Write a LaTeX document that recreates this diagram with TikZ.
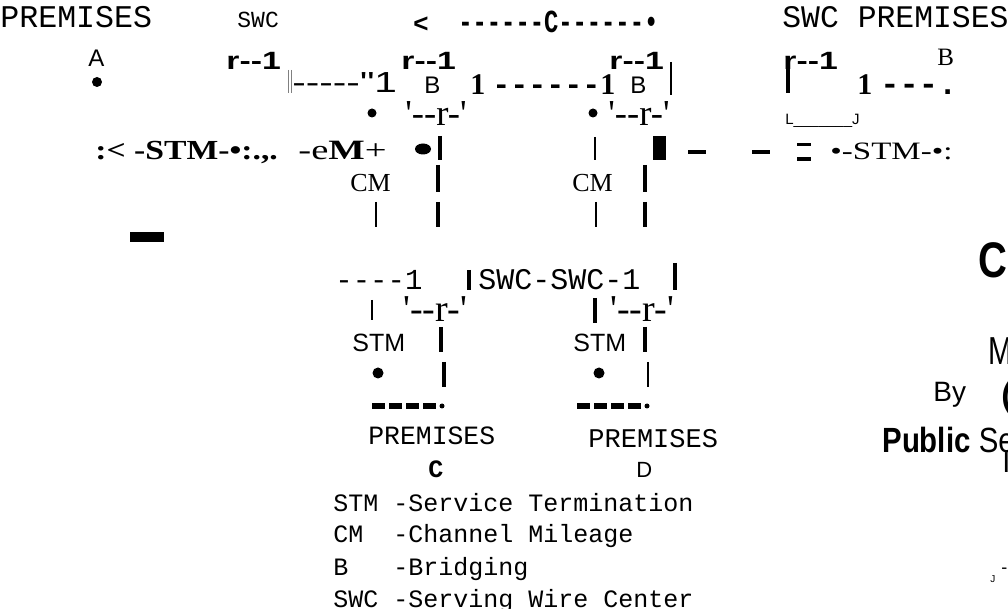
\documentclass[tikz,border=0pt]{standalone}
\usepackage{graphicx}
\usepackage{fontspec}
\setmainfont{Liberation Serif}[Ligatures=TeXOff]
\newfontfamily\sansfam{Liberation Sans}[Ligatures=TeXOff]
\newfontfamily\monofam{Liberation Mono}[Ligatures=TeXOff]
\newcommand\fsz[1]{\fontsize{#1}{#1}\selectfont}
\newcommand\sx[2]{\scalebox{#1}[1]{#2}}

\tikzset{
  txt/.style={anchor=base west, inner sep=0pt},
  mono/.style={txt, font=\monofam\fsz{#1}},
  monob/.style={txt, font=\monofam\bfseries\fsz{#1}},
  sans/.style={txt, font=\sansfam\fsz{#1}},
  sansb/.style={txt, font=\sansfam\bfseries\fsz{#1}},
  serif/.style={txt, font=\rmfamily\fsz{#1}},
  serifb/.style={txt, font=\rmfamily\bfseries\fsz{#1}},
  bar/.style={line width=2pt},
  thinbar/.style={line width=1.25pt},
}

\begin{document}
\begin{tikzpicture}[x=0.5pt, y=-0.5pt]
    \useasboundingbox (0,0) rectangle (1008,609);
    %
    % top row
    \node[mono=15.8] (premA) at (0,28) {PREMISES};
    \node[mono=11.5] (swcA) at (237,28) {SWC};
    \node[sansb=13] (lt) at (413,33) {<};
    \node[monob=11.9] (cline) at (458,33) {\scalebox{1}[1.35]{------C------•}};
    \node[mono=15.7] (premB) at (782,28) {SWC PREMISES};
    %
    % boxes
    \node[sans=12] (a) at (88,67) {A};
    \fill (97,82) circle[radius=2.5pt];
    \node[sansb=12.5] (ra) at (226,70) {\sx{1.35}{r--1}};
    \draw[gray, line width=0.3pt] (288,70) -- (288,93) (291,70) -- (291,93);
    \node[sans=14.5] (link) at (292,93) {\sx{1.4}{-----"1}};
    \node[sansb=12.5] (rb) at (401,70) {\sx{1.35}{r--1}};
    \node[sans=12] (b1) at (424,94) {B};
    \node[serifb=15] (one1) at (470,95) {1};
    \node[monob=15] (dash1) at (492,95) {------};
    \node[serifb=15] (one2) at (600,95) {1};
    \node[sans=12] (b2) at (630,94) {B};
    \node[sansb=12.5] (rc) at (609,70) {\sx{1.35}{r--1}};
    \draw[thinbar] (671,62) -- (671,95);
    \node[sansb=12.5] (rd) at (783,70) {\sx{1.35}{r--1}};
    \draw[bar] (788,66) -- (788,93);
    \node[serifb=15] (one3) at (857,95) {1};
    \node[monob=16] (dash3) at (880,95) {---.};
    \node[serif=12.5] (bB) at (937,66) {B};
    %
    \fill (372,113) circle[radius=2.25pt];
    \node[serif=18.3] (bot1) at (405,126) {'--r-'};
    \fill (593,113) circle[radius=2.25pt];
    \node[serif=18.3] (bot2) at (608,126) {'--r-'};
    \node[sans=7.5] (lj) at (785,125) {L\_\_\_\_\_\_\_J};
    %
    % STM row
    \node[serifb=13.8] (stmA) at (95,160) {\sx{1.22}{:< -STM-•:.,.}};
    \node[serif=14] (cmA) at (298,160) {\sx{1.38}{-e\textbf{M}+}};
    \fill (423,149) ellipse[x radius=4pt, y radius=2.75pt];
    \draw[bar] (440,136) -- (440,160);
    \draw[thinbar] (595,137) -- (595,160);
    \fill (653,136) rectangle (666,160);
    \fill (688,150) rectangle (706,154);
    \fill (752,150) rectangle (770,154);
    \fill (797,143) rectangle (811,146);
    \fill (797,157) rectangle (811,161);
    \node[serif=12.5] (stmB) at (830,160) {\sx{1.32}{•-STM-•:}};
    %
    \node[serif=13] (cm1) at (350,192) {CM};
    \draw[bar] (438,165) -- (438,192);
    \node[serif=13] (cm2) at (572,192) {CM};
    \draw[bar] (645,165) -- (645,192);
    \draw[thinbar] (376,202) -- (376,227);
    \draw[bar] (438,202) -- (438,227);
    \draw[thinbar] (596,202) -- (596,227);
    \draw[bar] (645,202) -- (645,227);
    \fill (130,232) rectangle (164,242);
    %
    % lower boxes
    \node[mono=14.5] (lnC) at (335,290) {----1};
    \draw[bar] (469,270) -- (469,290);
    \node[mono=15] (swcswc) at (478,290) {SWC-SWC-1};
    \draw[bar] (675,263) -- (675,290);
    \draw[thinbar] (372,300) -- (372,320);
    \node[serif=19] (bot3) at (403,322) {'--r-'};
    \draw[bar] (595,298) -- (595,323);
    \node[serif=19] (bot4) at (610,322) {'--r-'};
    \node[sans=12.5] (stmC) at (352,352) {STM};
    \draw[bar] (441,327) -- (441,352);
    \node[sans=12.5] (stmD) at (573,352) {STM};
    \draw[bar] (645,327) -- (645,352);
    \fill (378,373) circle[radius=2.75pt];
    \draw[bar] (444,362) -- (444,387);
    \fill (599,373) circle[radius=2.75pt];
    \draw[thinbar] (648,362) -- (648,387);
    \foreach \x in {372,389,406,423} \fill (\x,403) rectangle ++(13,6);
    \fill (442,406) circle[radius=1.25pt];
    \foreach \x in {577,594,611,628} \fill (\x,403) rectangle ++(13,6);
    \fill (647,406) circle[radius=1.25pt];
    %
    \node[mono=13.2] (premC) at (368,445) {PREMISES};
    \node[mono=13.5] (premD) at (588,448) {PREMISES};
    \node[monob=12.5] (c) at (428,478) {C};
    \node[sans=11] (d) at (636,478) {D};
    %
    % legend
    \node[mono=12.5] (lgSTM) at (333,511) {STM -Service Termination};
    \node[mono=12.5] (lgCM) at (333,543) {CM\ \ -Channel Mileage};
    \node[mono=12.5] (lgB) at (333,575) {B\ \ \ -Bridging};
    \node[mono=12.5] (lgSWC) at (333,607) {SWC -Serving Wire Center};
    %
    % title (cut at the edge)
    \node[sansb=25] (ca) at (978,278) {\sx{0.8}{CA}};
    \node[sans=19.5] (m) at (988,365) {\sx{0.75}{M}};
    \node[sans=14] (by) at (933,402) {By};
    \node[sansb=17] (paren) at (1001,407) {(};
    \node[sans=17.5] (pub) at (882,452) {\sx{0.84}{\textbf{Public} Se}};
    \node[sans=14.5] (ii) at (1002,473) {I};
    \node[sans=5] (jj) at (990,582) {J};
    \node[sans=9] (dd) at (1001,574) {-};
\end{tikzpicture}
\end{document}
